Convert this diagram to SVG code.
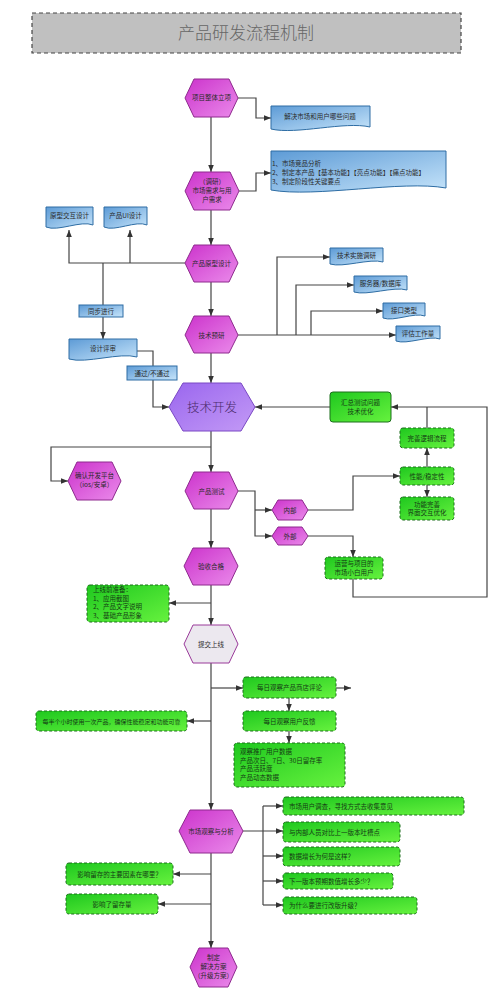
<svg xmlns="http://www.w3.org/2000/svg" width="500" height="1000" viewBox="0 0 500 1000">
<style>
text{font-family:"Noto Sans CJK SC","Noto Sans",sans-serif;font-size:6.5px;fill:#2a2a2a;text-anchor:middle}
.hex{fill:url(#gm);stroke:#8e2a8e;stroke-width:1}
.doc{fill:url(#gb);stroke:#2e6da4;stroke-width:1}
.lab{fill:url(#gb);stroke:#2e6da4;stroke-width:1}
.gr{fill:url(#gg);stroke:#1d6e1d;stroke-width:1;stroke-dasharray:3,2}
.grs{fill:url(#gg);stroke:#1d6e1d;stroke-width:1}
.c{fill:none;stroke:#444;stroke-width:1.2}
.ar{marker-end:url(#a)}
.lt{text-anchor:start}
.gt{fill:#143c14}
</style>
<defs>
<linearGradient id="gm" x1="0" y1="0" x2="1" y2="1"><stop offset="0" stop-color="#cc33cc"/><stop offset="1" stop-color="#ea8aea"/></linearGradient>
<linearGradient id="gv" x1="0" y1="0" x2="1" y2="1"><stop offset="0" stop-color="#9a66ee"/><stop offset="1" stop-color="#c39af6"/></linearGradient>
<linearGradient id="gb" x1="0" y1="0" x2="1" y2="1"><stop offset="0" stop-color="#5d9bd6"/><stop offset="1" stop-color="#c6e4fa"/></linearGradient>
<linearGradient id="gg" x1="0" y1="0" x2="1" y2="1"><stop offset="0" stop-color="#1fc81f"/><stop offset="1" stop-color="#66f23e"/></linearGradient>
<marker id="a" viewBox="0 0 10 10" refX="10" refY="5" markerWidth="7" markerHeight="7" markerUnits="userSpaceOnUse" orient="auto"><path d="M0,1 L10,5 L0,9 z" fill="#333"/></marker>
</defs>
<rect width="500" height="1000" fill="#fff"/>

<g id="title">
<rect x="32" y="13" width="429" height="40" fill="#c0c0c0" stroke="#444" stroke-width="1.2" stroke-dasharray="4,3"/>
<text x="246" y="39" style="font-size:17px;fill:#666;font-weight:300">产品研发流程机制</text>
</g>

<g id="connectors">
<path class="c ar" d="M238,98 H256 V118 H271"/>
<path class="c ar" d="M211,117 V172"/>
<path class="c ar" d="M239,191 H256 V173 H271"/>
<path class="c ar" d="M211,210 V245"/>
<path class="c ar" d="M185,263 H69 V230"/>
<path class="c ar" d="M130,263 V230"/>
<path class="c" d="M103,263 V305"/>
<path class="c ar" d="M103,317 V339"/>
<path class="c ar" d="M211,282 V316"/>
<path class="c ar" d="M238,335 H396"/>
<path class="c ar" d="M277,335 V257 H330"/>
<path class="c ar" d="M296,335 V285 H354"/>
<path class="c ar" d="M311,335 V311 H383"/>
<path class="c ar" d="M211,353 V383"/>
<path class="c ar" d="M137,351 H153 V407 H169"/>
<path class="c ar" d="M330,407 H255"/>
<path class="c ar" d="M353,579 V597 H487 V407 H391"/>
<path class="c" d="M427,428 V407"/>
<path class="c ar" d="M427,467 V448"/>
<path class="c ar" d="M427,485 V497"/>
<path class="c ar" d="M308,510 H353 V476 H400"/>
<path class="c ar" d="M238,491 H255 V536 H272"/>
<path class="c ar" d="M255,510 H272"/>
<path class="c ar" d="M308,536 H353 V557"/>
<path class="c ar" d="M211,431 V472"/>
<path class="c ar" d="M211,447 H51 V481 H68"/>
<path class="c ar" d="M211,509 V548"/>
<path class="c ar" d="M211,585 V625"/>
<path class="c ar" d="M211,603 H169"/>
<path class="c ar" d="M211,663 V810"/>
<path class="c ar" d="M211,688 H243"/>
<path class="c ar" d="M211,721 H187"/>
<path class="c ar" d="M336,688 H351"/>
<path class="c ar" d="M289,698 V711"/>
<path class="c ar" d="M289,731 V743"/>
<path class="c ar" d="M243,831 H283"/>
<path class="c" d="M263,806 V905"/>
<path class="c ar" d="M263,806 H283"/>
<path class="c ar" d="M263,856 H283"/>
<path class="c ar" d="M263,881 H283"/>
<path class="c ar" d="M263,905 H283"/>
<path class="c ar" d="M211,853 V948"/>
<path class="c ar" d="M211,874 H173"/>
<path class="c ar" d="M211,904 H158"/>
</g>

<g id="n1"><polygon class="hex" points="185,98 194,79 229,79 238,98 229,117 194,117"/><text x="211.5" y="100">项目整体立项</text></g>
<g id="n2"><polygon class="hex" points="185,191 194,172 230,172 239,191 230,210 194,210"/><text x="212" y="184">（调研）</text><text x="212" y="193">市场需求与用</text><text x="212" y="202">户需求</text></g>
<g id="n3"><polygon class="hex" points="185,263 194,245 229,245 238,263 229,282 194,282"/><text x="211.5" y="265.5">产品原型设计</text></g>
<g id="n4"><polygon class="hex" points="185,335 194,316 229,316 238,335 229,353 194,353"/><text x="211.5" y="337.5">技术预研</text></g>
<g id="n5"><polygon points="169,407 183,383 241,383 255,407 241,431 183,431" fill="url(#gv)" stroke="#7a48c4" stroke-width="1"/><text x="212" y="412" style="font-size:12.5px;fill:#4a2a6a;font-weight:300">技术开发</text></g>
<g id="n6"><polygon class="hex" points="185,491 194,472 229,472 238,491 229,509 194,509"/><text x="211.5" y="493.5">产品测试</text></g>
<g id="n7"><polygon class="hex" points="184,566 193,548 229,548 238,566 229,585 193,585"/><text x="211" y="568.5">验收合格</text></g>
<g id="n8"><polygon points="184,644 193,625 229,625 238,644 229,663 193,663" fill="#ece8ef" stroke="#9a3a9a" stroke-width="1"/><text x="211" y="646.5">提交上线</text></g>
<g id="n9"><polygon class="hex" points="179,831 190,810 232,810 243,831 232,853 190,853"/><text x="211" y="833.5">市场观察与分析</text></g>
<g id="n10"><polygon class="hex" points="190,967 199,948 228,948 237,967 228,987 199,987"/><text x="213.5" y="960">制定</text><text x="213.5" y="969">解决方案</text><text x="213.5" y="978">（升级方案）</text></g>
<g id="n11"><polygon class="hex" points="68,481 77,462 112,462 121,481 112,500 77,500"/><text x="94.5" y="478">确认开发平台</text><text x="94.5" y="487">（ios/安卓）</text></g>
<g id="n12"><polygon class="hex" points="272,510 278,500 302,500 308,510 302,520 278,520"/><text x="290" y="512.5">内部</text></g>
<g id="n13"><polygon class="hex" points="272,536 278,527 302,527 308,536 302,545 278,545"/><text x="290" y="538.5">外部</text></g>

<g id="d1"><path class="doc" d="M271,106 H370 V127 C345,121 296,135 271,129 Z"/><text x="320" y="119">解决市场和用户哪些问题</text></g>
<g id="d2"><path class="doc" d="M271,151 H446 V188 C402,180 315,198 271,190 Z"/><text class="lt" x="272" y="166">1、市场竞品分析</text><text class="lt" x="272" y="175">2、制定本产品【基本功能】【亮点功能】【痛点功能】</text><text class="lt" x="272" y="184">3、制定阶段性关键要点</text></g>
<g id="d3"><path class="doc" d="M46,207 H93 V225 C81,220 58,232 46,227 Z"/><text x="69.5" y="218">原型交互设计</text></g>
<g id="d4"><path class="doc" d="M104,207 H147 V225 C136,220 115,232 104,227 Z"/><text x="125.5" y="218">产品UI设计</text></g>
<g id="d5"><path class="doc" d="M330,248 H383 V262 C370,258 343,268 330,264 Z"/><text x="356.5" y="258">技术实施调研</text></g>
<g id="d6"><path class="doc" d="M354,276 H407 V290 C394,286 367,296 354,292 Z"/><text x="380.5" y="286">服务器/数据库</text></g>
<g id="d7"><path class="doc" d="M383,303 H425 V316 C414,312 394,322 383,318 Z"/><text x="404" y="313">接口类型</text></g>
<g id="d8"><path class="doc" d="M396,326 H440 V339 C429,335 407,345 396,341 Z"/><text x="418" y="336">评估工作量</text></g>
<g id="d9"><path class="doc" d="M69,339 H137 V357 C120,352 86,364 69,359 Z"/><text x="103" y="351">设计评审</text></g>

<g id="l1"><rect class="lab" x="79" y="305" width="44" height="12"/><text x="101" y="313.5">同步进行</text></g>
<g id="l2"><rect class="lab" x="127" y="366" width="50" height="14"/><text x="152" y="375.5">通过/不通过</text></g>

<g id="g1"><rect class="grs" x="330" y="392" width="61" height="30" rx="3"/><text class="gt" x="360.5" y="405">汇总测试问题</text><text class="gt" x="360.5" y="414">技术优化</text></g>
<g id="g2"><rect class="gr" x="400" y="428" width="54" height="20" rx="3"/><text class="gt" x="427" y="440.5">完善逻辑流程</text></g>
<g id="g3"><rect class="gr" x="400" y="467" width="54" height="18" rx="3"/><text class="gt" x="427" y="478.5">性能/稳定性</text></g>
<g id="g4"><rect class="gr" x="400" y="497" width="54" height="23" rx="3"/><text class="gt" x="427" y="506.5">功能完善</text><text class="gt" x="427" y="515">界面交互优化</text></g>
<g id="g5"><rect class="gr" x="325" y="557" width="58" height="22" rx="3"/><text class="gt" x="354" y="566">运营与项目的</text><text class="gt" x="354" y="574.5">市场小白用户</text></g>
<g id="g6"><rect class="gr" x="87" y="585" width="82" height="37" rx="3"/><text class="gt lt" x="93" y="592">上线前准备：</text><text class="gt lt" x="93" y="600.5">1、应用截图</text><text class="gt lt" x="93" y="609">2、产品文字说明</text><text class="gt lt" x="93" y="617.5">3、基础产品形象</text></g>
<g id="g7"><rect class="gr" x="243" y="677" width="93" height="21" rx="3"/><text class="gt" x="289.5" y="690">每日观察产品商店评论</text></g>
<g id="g8"><rect class="gr" x="243" y="711" width="93" height="20" rx="3"/><text class="gt" x="289.5" y="723.5">每日观察用户反馈</text></g>
<g id="g9"><rect class="gr" x="234" y="743" width="111" height="44" rx="3"/><text class="gt lt" x="240" y="754">观察推广用户数据</text><text class="gt lt" x="240" y="762.5">产品次日、7日、30日留存率</text><text class="gt lt" x="240" y="771">产品活跃度</text><text class="gt lt" x="240" y="779.5">产品动态数据</text></g>
<g id="g10"><rect class="gr" x="36" y="711" width="151" height="20" rx="3"/><text class="gt" x="111.5" y="723.5" style="font-size:6px">每半个小时使用一次产品，确保性能稳定和功能可靠</text></g>
<g id="g11"><rect class="gr" x="283" y="797" width="181" height="18" rx="3"/><text class="gt lt" x="289" y="808.5">市场用户调查，寻找方式去收集意见</text></g>
<g id="g12"><rect class="gr" x="283" y="822" width="117" height="20" rx="3"/><text class="gt lt" x="289" y="834.5">与内部人员对比上一版本吐槽点</text></g>
<g id="g13"><rect class="gr" x="283" y="847" width="117" height="19" rx="3"/><text class="gt lt" x="289" y="859">数据增长为何是这样？</text></g>
<g id="g14"><rect class="gr" x="283" y="873" width="110" height="16" rx="3"/><text class="gt lt" x="289" y="883.5">下一版本预期数值增长多少？</text></g>
<g id="g15"><rect class="gr" x="283" y="897" width="134" height="17" rx="3"/><text class="gt lt" x="289" y="908">为什么要进行改版升级？</text></g>
<g id="g16"><rect class="gr" x="66" y="863" width="107" height="22" rx="3"/><text class="gt" x="119.5" y="876.5">影响留存的主要因素在哪里？</text></g>
<g id="g17"><rect class="gr" x="66" y="894" width="92" height="20" rx="3"/><text class="gt" x="112" y="906.5">影响了留存量</text></g>
</svg>
